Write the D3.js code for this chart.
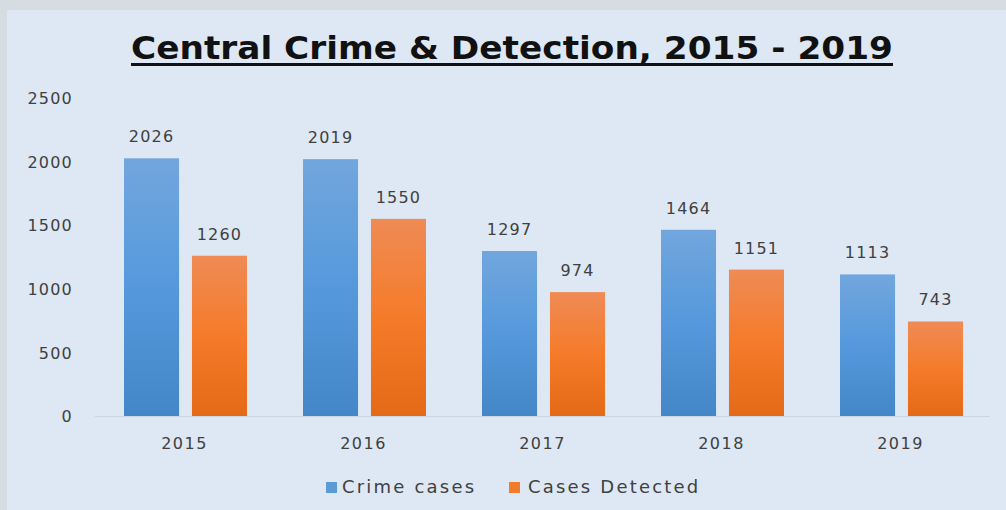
<!DOCTYPE html>
<html>
<head>
<meta charset="utf-8">
<script src="https://cdn.jsdelivr.net/npm/d3@7"></script>
<style>
  html, body { margin: 0; padding: 0; background: #d6dde3; }
  svg { display: block; }
</style>
</head>
<body>
<svg id="chart" width="1006" height="510"></svg>
<script>
const years = ["2015", "2016", "2017", "2018", "2019"];
const seriesNames = ["Crime cases", "Cases Detected"];
const crimeCases = [2026, 2019, 1297, 1464, 1113];
const casesDetected = [1260, 1550, 974, 1151, 743];
const yTicks = [0, 500, 1000, 1500, 2000, 2500];
const titleText = "Central Crime & Detection, 2015 - 2019";

const seriesValues = [crimeCases, casesDetected];
const data = years.map((y, i) => ({ year: y, values: seriesNames.map((s, j) => ({ key: s, value: seriesValues[j][i] })) }));

const svg = d3.select("#chart");
const W = 1006, H = 510;

// background
svg.append("rect").attr("x", 0).attr("y", 0).attr("width", W).attr("height", H).attr("fill", "#d5dce2");
svg.append("rect").attr("x", 7).attr("y", 10).attr("width", W - 7).attr("height", H - 10).attr("fill", "#dde8f4");

const defs = svg.append("defs");
const gradStops = {
  "Crime cases": ["#72a6dd", "#5599dc", "#4487c8"],
  "Cases Detected": ["#ef8b55", "#f57b2a", "#e46a17"]
};
const colorSolid = { "Crime cases": "#5b9bd5", "Cases Detected": "#f07c2c" };
seriesNames.forEach((s, i) => {
  const g = defs.append("linearGradient").attr("id", "grad" + i)
    .attr("x1", 0).attr("y1", 0).attr("x2", 0).attr("y2", 1);
  g.append("stop").attr("offset", "0%").attr("stop-color", gradStops[s][0]);
  g.append("stop").attr("offset", "50%").attr("stop-color", gradStops[s][1]);
  g.append("stop").attr("offset", "100%").attr("stop-color", gradStops[s][2]);
});

const x0 = d3.scaleBand().domain(years).range([95, 990]).padding(0);
const x1 = d3.scaleBand().domain(seriesNames).range([29, 152]).paddingInner(0.19);
const y = d3.scaleLinear().domain([0, 2500]).range([416, 98]);

const font = "'DejaVu Sans', sans-serif";

// title
svg.append("text")
  .attr("x", 512).attr("y", 59)
  .attr("text-anchor", "middle")
  .attr("font-family", "'DejaVu Sans', sans-serif")
  .attr("font-weight", "bold")
  .attr("font-size", 32)
  .attr("textLength", 762)
  .attr("lengthAdjust", "spacingAndGlyphs")
  .attr("fill", "#111")
  .text(titleText);
svg.append("rect").attr("x", 131).attr("y", 63).attr("width", 762).attr("height", 3).attr("fill", "#111");

// y axis labels
const yAxis = d3.axisLeft(y).tickValues(yTicks).tickFormat(d3.format("d")).tickSize(0).tickPadding(0);
const yg = svg.append("g").attr("transform", "translate(73,0)").call(yAxis);
yg.select(".domain").remove();
yg.selectAll("text")
  .attr("font-family", font).attr("font-size", 16).attr("letter-spacing", 1.2)
  .attr("fill", "#404040").attr("dy", "0.35em");

// baseline
svg.append("line").attr("x1", 95).attr("x2", 990).attr("y1", y(0) + 0.5).attr("y2", y(0) + 0.5)
  .attr("stroke", "#cdd6df").attr("stroke-width", 1);

// bars
const groups = svg.append("g").selectAll("g").data(data).join("g")
  .attr("transform", d => `translate(${x0(d.year)},0)`);

groups.selectAll("rect").data(d => d.values).join("rect")
  .attr("x", d => x1(d.key))
  .attr("y", d => y(d.value))
  .attr("width", x1.bandwidth())
  .attr("height", d => y(0) - y(d.value))
  .attr("fill", d => "url(#grad" + seriesNames.indexOf(d.key) + ")");

groups.selectAll("text.val").data(d => d.values).join("text")
  .attr("class", "val")
  .attr("x", d => x1(d.key) + x1.bandwidth() / 2)
  .attr("y", d => y(d.value) - 16)
  .attr("text-anchor", "middle")
  .attr("font-family", font).attr("font-size", 16).attr("letter-spacing", 1.2)
  .attr("fill", "#404040")
  .text(d => d.value);

// x axis labels
const xAxis = d3.axisBottom(x0).tickSize(0).tickPadding(0);
const xg = svg.append("g").attr("transform", "translate(0,449)").call(xAxis);
xg.select(".domain").remove();
xg.selectAll("text")
  .attr("font-family", font).attr("font-size", 16).attr("letter-spacing", 1.5)
  .attr("fill", "#404040").attr("dy", 0);

// legend
const legendX = [326, 509];
const legend = svg.append("g").selectAll("g").data(seriesNames).join("g")
  .attr("transform", (d, i) => `translate(${legendX[i]},482)`);
legend.append("rect").attr("width", 11).attr("height", 11).attr("fill", d => colorSolid[d]);
legend.append("text")
  .attr("x", (d, i) => i === 0 ? 16 : 19).attr("y", 11)
  .attr("font-family", font).attr("font-size", 18).attr("letter-spacing", 2.2)
  .attr("fill", "#404040")
  .text(d => d);
</script>
</body>
</html>
